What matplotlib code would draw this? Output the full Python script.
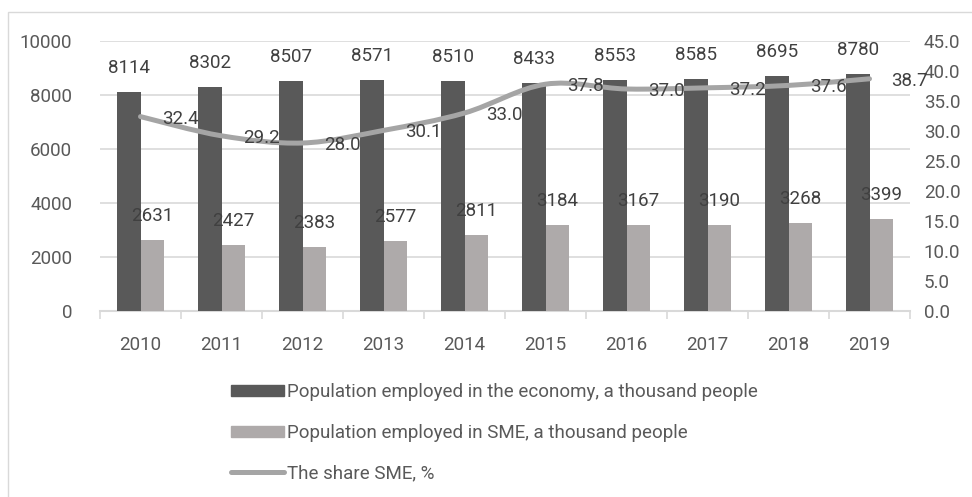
import matplotlib
matplotlib.use("Agg")
import matplotlib.pyplot as plt
from matplotlib.path import Path
from matplotlib.patches import PathPatch, Rectangle
from matplotlib.lines import Line2D
import numpy as np

years = ["2010", "2011", "2012", "2013", "2014", "2015", "2016", "2017", "2018", "2019"]
economy = [8114, 8302, 8507, 8571, 8510, 8433, 8553, 8585, 8695, 8780]
sme = [2631, 2427, 2383, 2577, 2811, 3184, 3167, 3190, 3268, 3399]
share = [32.4, 29.2, 28.0, 30.1, 33.0, 37.8, 37.0, 37.2, 37.6, 38.7]
left_ticks = [0, 2000, 4000, 6000, 8000, 10000]
right_ticks = [0, 5, 10, 15, 20, 25, 30, 35, 40, 45]

labels = ["Population employed in the economy, a thousand people",
          "Population employed in SME, a thousand people",
          "The share SME, %"]

DARK = "#595959"
LIGHT = "#aeaaaa"
LINEC = "#a5a5a5"
TXT = "#595959"
DTXT = "#404040"
GRID = "#d9d9d9"

plt.rcParams['font.family'] = ['Roboto', 'DejaVu Sans']
FS = 13.5

W, H = 972, 497
fig = plt.figure(figsize=(W / 100, H / 100), dpi=100)

# outer chart border (partly cut)
fig.add_artist(Rectangle((8 / W, -0.05), 1.2, (H - 12) / H + 0.05, transform=fig.transFigure,
                         fill=False, edgecolor="#d9d9d9", linewidth=1))

L, R, T, B = 100, 910, 41, 311
ax = fig.add_axes([L / W, (H - B) / H, (R - L) / W, (B - T) / H])
ax2 = ax.twinx()

n = len(years)
x = np.arange(n)
bw = 0.285
ax.bar(x - bw / 2, economy, bw, color=DARK, zorder=3)
ax.bar(x + bw / 2, sme, bw, color=LIGHT, zorder=3)

ax.set_xlim(-0.5, n - 0.5)
ax.set_ylim(0, 10000)
ax.set_yticks(left_ticks)
ax.set_yticklabels([str(v) for v in left_ticks])
ax.yaxis.grid(True, color=GRID, linewidth=1.2, zorder=0)
ax.set_axisbelow(True)
ax.set_xticks(x)
ax.set_xticklabels(years)
ax.set_xticks(np.arange(n + 1) - 0.5, minor=True)
ax.tick_params(axis='x', which='major', length=0, pad=18, labelsize=FS, labelcolor=TXT)
ax.tick_params(axis='x', which='minor', length=6, color=GRID, width=1.2)
ax.tick_params(axis='y', length=0, pad=20, labelsize=FS, labelcolor=TXT)
for s in ['top', 'right', 'left']:
    ax.spines[s].set_visible(False)
ax.spines['bottom'].set_color(GRID)
ax.spines['bottom'].set_linewidth(1.5)

for xi, v in zip(x, economy):
    ax.annotate(str(v), (xi - bw / 2, v), xytext=(0, 24), textcoords='offset pixels',
                ha='center', va='center', fontsize=FS, color=DTXT, zorder=5)
for xi, v in zip(x, sme):
    ax.annotate(str(v), (xi + bw / 2, v), xytext=(0, 24), textcoords='offset pixels',
                ha='center', va='center', fontsize=FS, color=DTXT, zorder=5)

# secondary axis: smoothed line
ax2.set_ylim(0, 45)
ax2.set_yticks(right_ticks)
ax2.set_yticklabels([f"{v:.1f}" for v in right_ticks])
ax2.tick_params(axis='y', length=0, pad=10, labelsize=FS, labelcolor=TXT)
for s in ax2.spines.values():
    s.set_visible(False)

xs = list(x)
ys = list(share)
verts = [(xs[0], ys[0])]
codes = [Path.MOVETO]
t = 1 / 6
for i in range(n - 1):
    p0 = (xs[max(i - 1, 0)], ys[max(i - 1, 0)])
    p1 = (xs[i], ys[i])
    p2 = (xs[i + 1], ys[i + 1])
    p3 = (xs[min(i + 2, n - 1)], ys[min(i + 2, n - 1)])
    c1 = (p1[0] + (p2[0] - p0[0]) * t, p1[1] + (p2[1] - p0[1]) * t)
    c2 = (p2[0] - (p3[0] - p1[0]) * t, p2[1] - (p3[1] - p1[1]) * t)
    verts += [c1, c2, p2]
    codes += [Path.CURVE4] * 3
ax2.add_patch(PathPatch(Path(verts, codes), facecolor='none', edgecolor=LINEC,
                        linewidth=3.6, capstyle='round', zorder=4))
for xi, v in zip(x, share):
    ax2.annotate(f"{v:.1f}", (xi, v), xytext=(22, -2), textcoords='offset pixels',
                 ha='left', va='center', fontsize=FS, color=DTXT, zorder=5)

# legend
handles = [Rectangle((0, 0), 1, 1, color=DARK),
           Rectangle((0, 0), 1, 1, color=LIGHT),
           Line2D([0], [0], color=LINEC, linewidth=3.6, solid_capstyle='round')]
leg = fig.legend(handles, labels, loc='upper left', bbox_to_anchor=(222 / W, 1 - 374 / H),
                 ncol=1, frameon=False, fontsize=FS, labelcolor=TXT, handlelength=2.8,
                 handleheight=0.55, handletextpad=0.15, labelspacing=1.2, borderpad=0)

fig.savefig("out.png", dpi=100)
